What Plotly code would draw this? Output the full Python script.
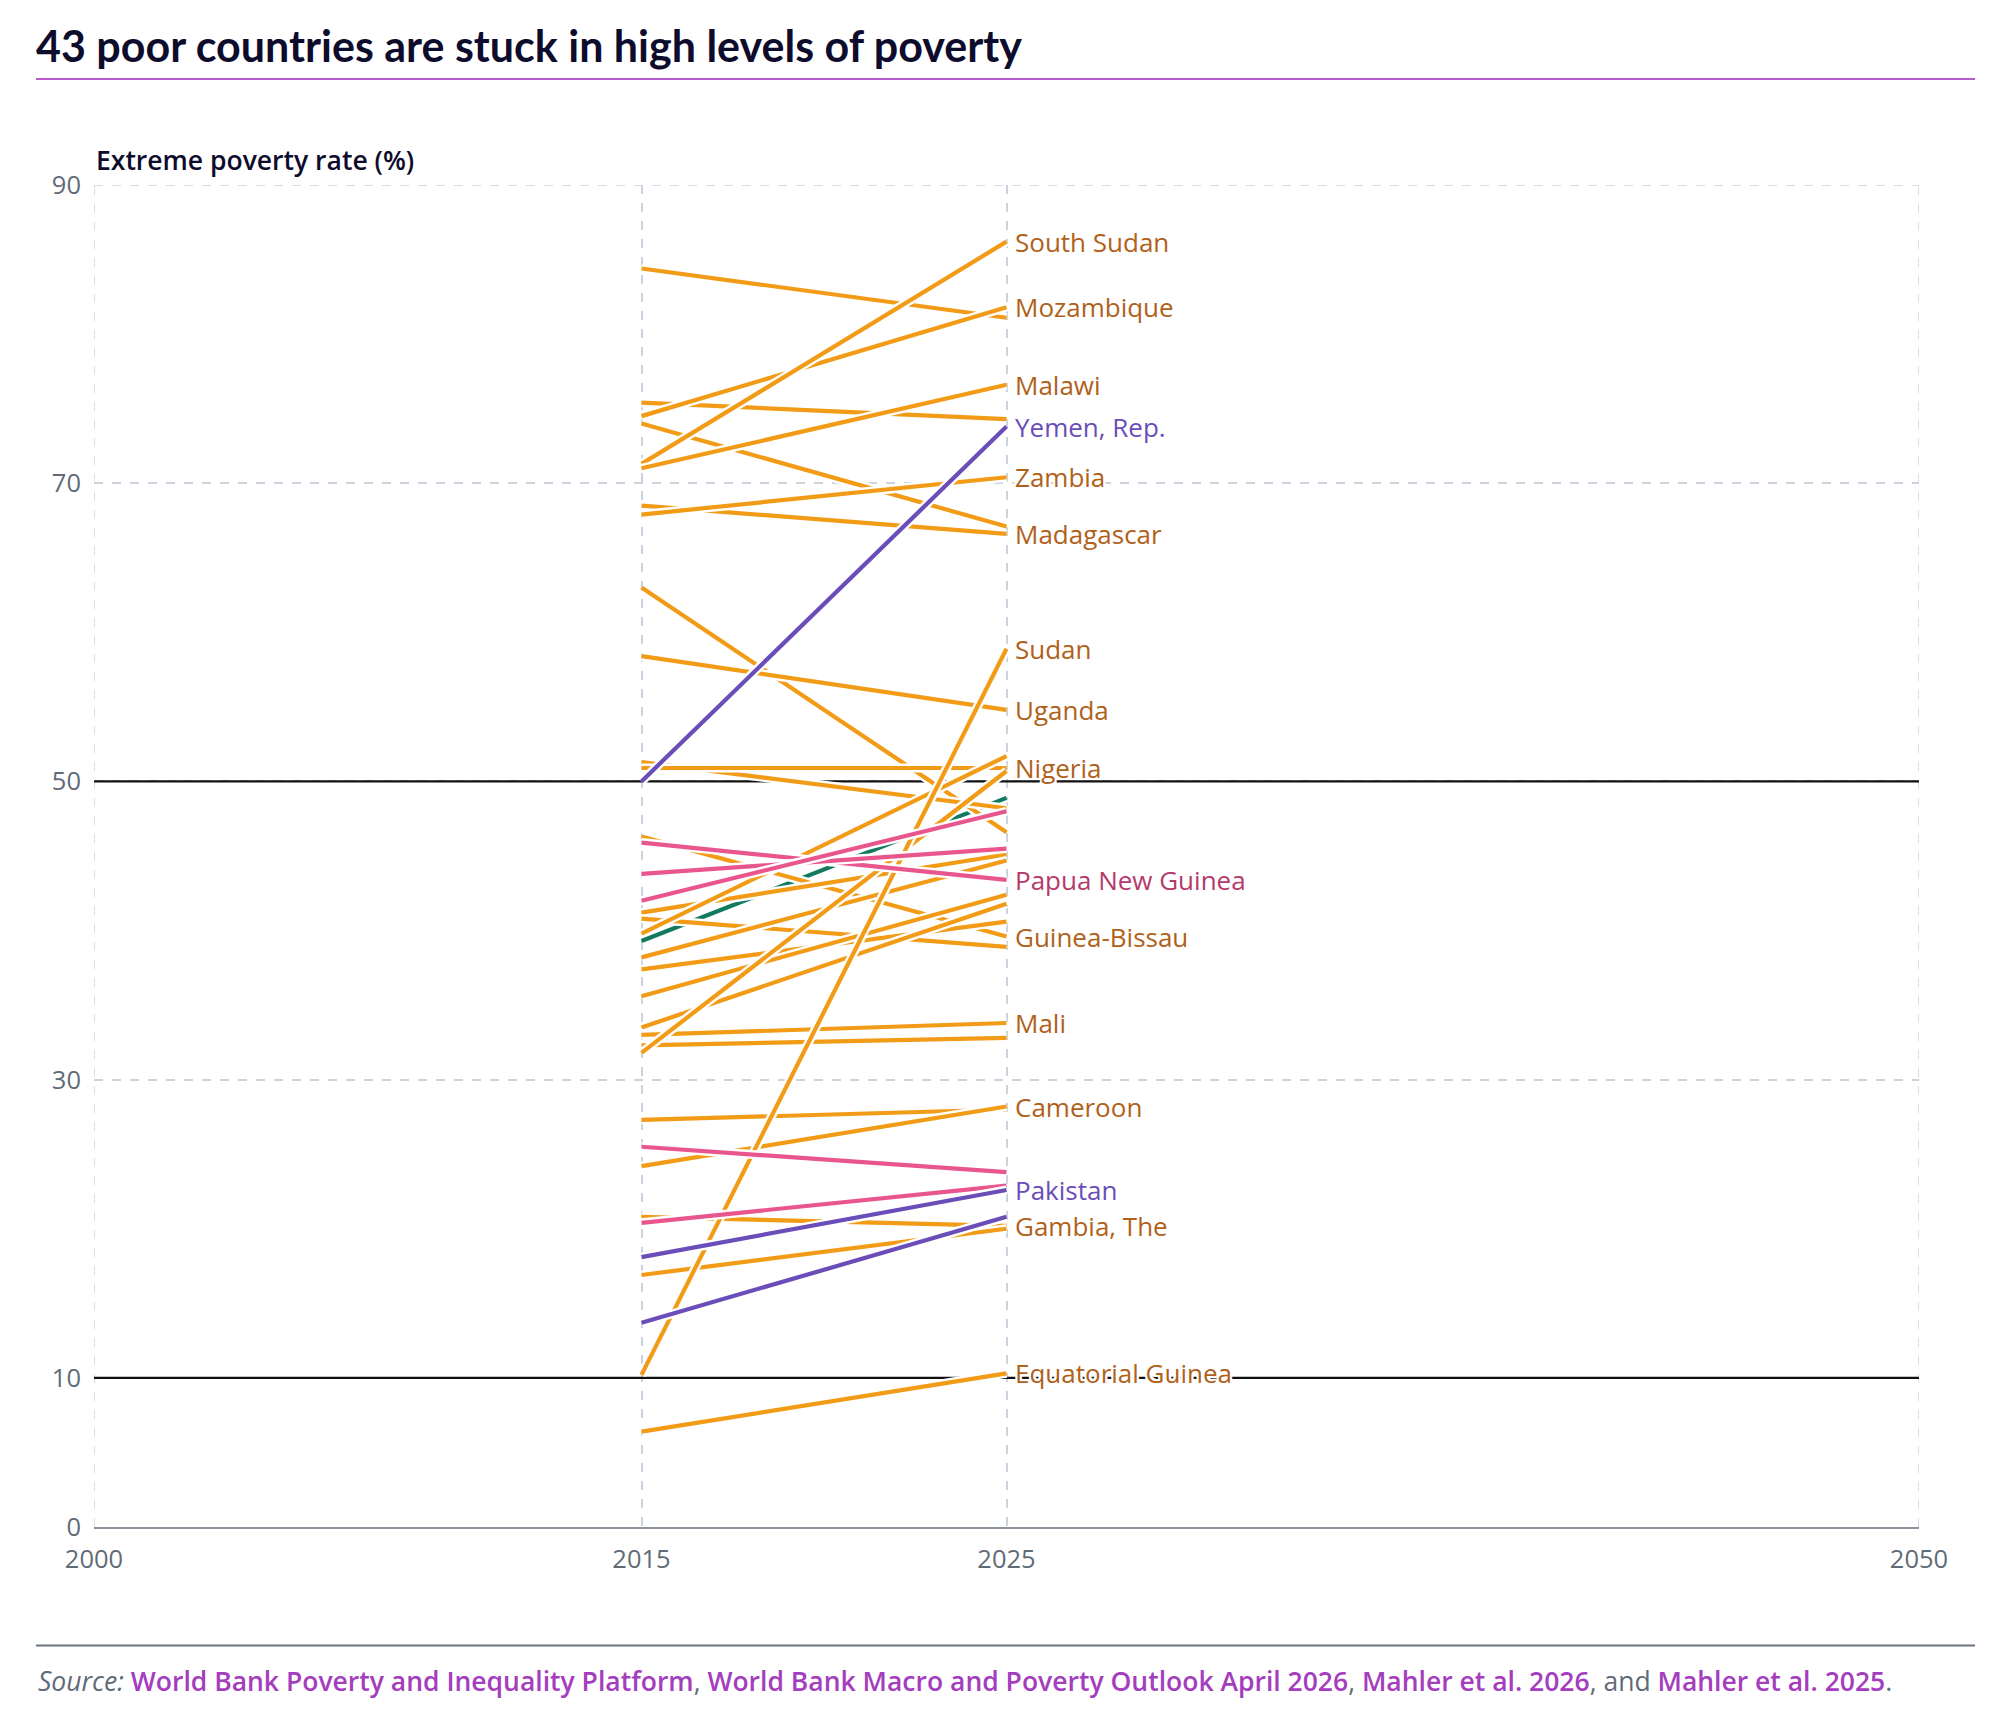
import plotly.graph_objects as go

# ---------------- data ----------------
years = [2015, 2025]
countries = [
    "", "", "Mozambique", "", "South Sudan", "Malawi", "Madagascar", "Zambia",
    "", "Uganda", "", "Nigeria", "Yemen, Rep.", "Guinea-Bissau", "Papua New Guinea",
    "", "", "", "", "", "", "", "", "", "",
    "Mali", "", "", "", "Cameroon", "", "Gambia, The", "", "Pakistan", "", "",
    "Sudan", "Equatorial Guinea",
]
values_2015 = [
    84.4, 75.4, 74.5, 74.0, 71.3, 71.0, 68.5, 67.9,
    63.0, 58.4, 51.3, 50.9, 50.0, 46.3, 45.9,
    43.8, 42.0, 41.2, 40.8, 39.8, 39.3, 38.2, 37.4, 35.6, 33.5,
    33.0, 32.3, 31.8, 27.3, 24.2, 25.5, 20.8, 20.4, 18.1, 16.9, 13.7,
    10.2, 6.4,
]
values_2025 = [
    81.1, 74.3, 81.8, 67.1, 86.2, 76.6, 66.6, 70.4,
    46.6, 54.8, 48.2, 50.9, 73.8, 39.6, 43.4,
    45.5, 48.0, 45.1, 38.9, 51.7, 48.9, 44.7, 40.6, 42.4, 41.8,
    33.8, 32.8, 50.7, 28.0, 28.2, 23.8, 20.2, 22.9, 22.6, 20.0, 20.8,
    58.9, 10.3,
]
groups = [
    "o", "o", "o", "o", "o", "o", "o", "o",
    "o", "o", "o", "o", "u", "o", "p",
    "p", "p", "o", "o", "o", "g", "o", "o", "o", "o",
    "o", "o", "o", "o", "o", "p", "o", "p", "u", "o", "u",
    "o", "o",
]
x_range = [2000, 2050]
y_range = [0, 90]
x_ticks = [2000, 2015, 2025, 2050]
y_ticks = [0, 10, 30, 50, 70, 90]
reference_levels = [10, 50]

line_colors = {"o": "#F29B16", "p": "#E9568E", "u": "#6A4DB8", "g": "#137A62"}
label_colors = {"o": "#B0611A", "p": "#B53A6B", "u": "#6A4DB8", "g": "#137A62"}
draw_order = ["g", "o", "p", "u"]
grid_color = "#CBD3DE"

fig = go.Figure()

# black reference lines (drawn under the series)
for lvl in reference_levels:
    fig.add_trace(go.Scatter(x=x_range, y=[lvl, lvl], mode="lines",
                             line=dict(color="#111111", width=2.2),
                             hoverinfo="skip", showlegend=False))

for grp in draw_order:
    for name, a, b, g in zip(countries, values_2015, values_2025, groups):
        if g != grp:
            continue
        fig.add_trace(go.Scatter(x=years, y=[a, b], mode="lines",
                                 line=dict(color="white", width=9),
                                 hoverinfo="skip", showlegend=False))
        fig.add_trace(go.Scatter(x=years, y=[a, b], mode="lines",
                                 line=dict(color=line_colors[g], width=4.2),
                                 name=name, showlegend=False))

halo = "2px 2px 0 #fff, -2px -2px 0 #fff, 2px -2px 0 #fff, -2px 2px 0 #fff, 0 2px 0 #fff, 0 -2px 0 #fff"
annotations = []
for name, b, g in zip(countries, values_2025, groups):
    if name:
        annotations.append(dict(
            x=years[1], y=b, xref="x", yref="y", text=name, showarrow=False,
            xanchor="left", yanchor="middle", xshift=6,
            font=dict(family="Open Sans", size=26, color=label_colors[g], shadow=halo)))

annotations.append(dict(
    x=0, y=1, xref="paper", yref="paper", text="Extreme poverty rate (%)",
    showarrow=False, xanchor="left", yanchor="bottom", yshift=5,
    font=dict(family="Open Sans", size=26.5, color="#0E0C2C", weight=600)))

link = "color:#A43DBE;font-weight:600"
source = ("<i>Source:</i> "
          f"<span style='{link}'>World Bank Poverty and Inequality Platform</span>, "
          f"<span style='{link}'>World Bank Macro and Poverty Outlook April 2026</span>, "
          f"<span style='{link}'>Mahler et al. 2026</span>, and "
          f"<span style='{link}'>Mahler et al. 2025</span>.")
annotations.append(dict(
    x=-0.0318, y=-0.1148, xref="paper", yref="paper", text=source,
    showarrow=False, xanchor="left", yanchor="middle",
    font=dict(family="Open Sans", size=26.5, color="#5F6B76")))

shapes = []
# dashed grid on the plot edges
for xv in x_range:
    shapes.append(dict(type="line", xref="x", yref="y", x0=xv, x1=xv, y0=y_range[0], y1=y_range[1],
                       line=dict(color=grid_color, width=1.5, dash="dash"), layer="below"))
shapes.append(dict(type="line", xref="x", yref="y", x0=x_range[0], x1=x_range[1],
                   y0=y_range[1], y1=y_range[1],
                   line=dict(color=grid_color, width=1.5, dash="dash"), layer="below"))
shapes.append(dict(type="line", xref="paper", yref="paper", x0=-0.0318, x1=1.0307,
                   y0=1.079, y1=1.079, line=dict(color="#B75CCB", width=2)))
shapes.append(dict(type="line", xref="paper", yref="paper", x0=-0.0318, x1=1.0307,
                   y0=-0.0883, y1=-0.0883, line=dict(color="#6B7480", width=2)))

fig.update_layout(
    width=2000, height=1716,
    margin=dict(l=94, r=81, t=185, b=189),
    paper_bgcolor="white", plot_bgcolor="white",
    title=dict(text="<b>43 poor countries are stuck in high levels of poverty</b>",
               xref="container", yref="container", x=0.018, xanchor="left",
               y=1 - 47 / 1716, yanchor="middle",
               font=dict(family="Lato", size=43, color="#0E0C2C")),
    xaxis=dict(range=x_range, tickvals=x_ticks, showgrid=True,
               gridcolor=grid_color, griddash="dash", gridwidth=1.5,
               zeroline=False, showline=True, linecolor="#8A939C", linewidth=2,
               ticks="", tickfont=dict(family="Open Sans", size=25.5, color="#5F6B76"),
               ticklabelstandoff=8),
    yaxis=dict(range=y_range, tickvals=y_ticks, showgrid=True,
               gridcolor=grid_color, griddash="dash", gridwidth=1.5,
               zeroline=False, showline=False, ticks="",
               tickfont=dict(family="Open Sans", size=25.5, color="#5F6B76"),
               ticklabelstandoff=12),
    annotations=annotations,
    shapes=shapes,
)

fig.write_html("out.html")
